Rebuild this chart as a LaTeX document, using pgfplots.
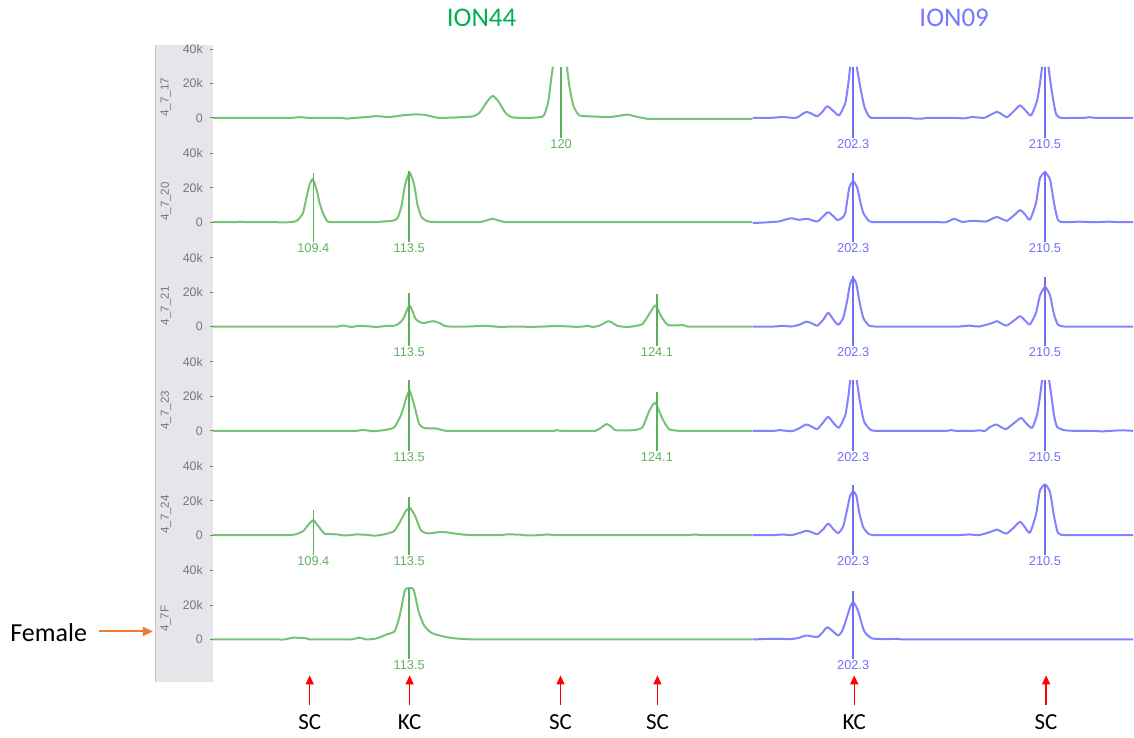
\documentclass[border=0pt]{standalone}
\usepackage{fontspec}
\setmainfont{Liberation Sans}
\newfontfamily\calib{Carlito}
\usepackage{pgfplots}
\pgfplotsset{compat=1.18}
\usetikzlibrary{arrows.meta}
\definecolor{gtrace}{RGB}{120,194,120}
\definecolor{gmark}{RGB}{92,176,92}
\definecolor{glab}{RGB}{95,178,95}
\definecolor{btrace}{RGB}{130,130,255}
\definecolor{bmark}{RGB}{112,112,245}
\definecolor{blab}{RGB}{112,112,240}
\definecolor{stripgray}{RGB}{229,229,234}
\definecolor{labgray}{RGB}{120,120,120}
\definecolor{titlegreen}{RGB}{0,176,80}
\definecolor{titleblue}{RGB}{120,120,255}
\definecolor{orangec}{RGB}{237,125,49}
\tikzset{
 gl/.style={font=\fontsize{6.4}{7}\selectfont, text=glab},
 bl/.style={font=\fontsize{6.4}{7}\selectfont, text=blab},
}
\pgfplotsset{
 rowaxis/.style={
  scale only axis, width=460.5pt, height=51.75pt,
  xmin=105.1, xmax=144.47, ymin=-18, ymax=42,
  anchor=south west, clip=false, unbounded coords=jump,
  axis line style={draw=none}, xtick=\empty,
  ytick={0,20,40}, yticklabels={0,20k,40k},
  ytick pos=left, tick align=outside, major tick length=1.5pt,
  tick style={draw=labgray, line width=0.4pt},
  yticklabel style={font=\fontsize{6.2}{7}\selectfont, text=labgray},
  ylabel style={at={(axis description cs:-0.051,0.5)}, anchor=center, font=\fontsize{5.8}{6}\selectfont, text=labgray},
 },
 gt/.style={gtrace, line width=1pt, smooth, tension=0.35, line join=round},
 bt/.style={btrace, line width=1pt, smooth, tension=0.35, line join=round, x filter/.expression={x-69.8}},
 gm/.style={gmark, line width=0.75pt},
 bm/.style={bmark, line width=0.75pt, x filter/.expression={x-69.8}},
}
\begin{document}
\begin{tikzpicture}
\begin{scope}[x=0.5pt,y=-0.5pt]
\path[use as bounding box] (0,0) rectangle (1134,738);
\fill[stripgray] (155,45) rectangle (213,683);
\draw[stripgray!85!black, line width=0.3pt] (155,45) -- (155,683);
\end{scope}

% Row 1
\begin{axis}[rowaxis, at={(106.5pt,-74.525pt)}, ylabel={4\_7\_17}]
\addplot[gt] coordinates {(105.10,0) (107.11,0) (108.39,0) (108.82,0.4) (109.25,0) (110.53,0) (110.83,-0.4) (111.17,0) (111.60,0.4) (112.11,1.0) (112.66,0.5) (113.22,1.5) (113.73,2.0) (114.16,1.8) (114.80,0) (116.17,0.8) (116.51,3) (116.81,9) (117.07,12.8) (117.32,9.5) (117.62,3) (117.92,0.3) (118.65,0) (119.20,0.7) (119.33,3.5) (119.46,10) (119.59,24) (119.65,29.7) (119.95,nan) (120.25,29.7) (120.36,18) (120.53,7) (120.78,1.5) (121.42,0.8) (122.07,0.5) (122.49,1.2) (122.84,1.9) (123.26,0.6) (123.69,-0.5) (124.2,-0.5) (126.2,-0.5) (128.18,-0.5)};
\addplot[bt] coordinates {(198.00,0) (198.71,0) (199.27,0.5) (199.56,0.2) (199.86,0) (200.08,1.8) (200.29,3.5) (200.51,2.5) (200.76,1) (200.98,3.5) (201.19,6.8) (201.45,4) (201.70,1.5) (201.96,8.7) (202.09,20) (202.17,29.7) (202.3,nan) (202.45,29.7) (202.60,18) (202.77,6.8) (202.94,1.5) (203.07,0) (203.5,0) (204.3,0) (204.69,0) (204.91,-0.4) (205.25,-0.4) (205.46,0) (206.0,0) (206.70,0) (207.04,-0.3) (207.39,0.5) (207.90,0) (208.20,2) (208.45,3.5) (208.67,2) (208.88,0.4) (209.18,4) (209.44,7.3) (209.69,4) (209.91,1.4) (210.16,9.7) (210.29,20) (210.38,29.7) (210.5,nan) (210.65,29.7) (210.80,15) (210.98,2) (211.19,0) (211.6,0) (212.17,0) (212.39,0.4) (212.68,0) (213.2,0) (214.27,0)};
\addplot[gm] coordinates {(120,-11.5) (120,29.7)};
\addplot[bm] coordinates {(202.3,-11.5) (202.3,29.7)};
\addplot[bm] coordinates {(210.5,-11.5) (210.5,29.7)};
\node[gl] at (axis cs:120,-15) {120};
\node[bl] at (axis cs:132.5,-15) {202.3};
\node[bl] at (axis cs:140.7,-15) {210.5};
\end{axis}

% Row 2
\begin{axis}[rowaxis, at={(106.5pt,-126.725pt)}, ylabel={4\_7\_20}]
\addplot[gt] coordinates {(105.10,0) (106.04,0) (106.25,0.3) (106.60,0) (107.5,0) (108.39,0) (108.69,0.8) (108.95,5) (109.07,12) (109.22,21) (109.37,25) (109.54,19) (109.67,11) (109.82,5) (110.01,0.5) (110.31,0) (110.6,0) (111.7,0) (112.02,0) (112.45,0.5) (112.79,0.8) (113.01,2.5) (113.18,10) (113.33,22) (113.52,28.8) (113.71,22) (113.86,10) (114.03,3) (114.29,0.5) (114.80,0) (115.1,0) (116.3,0) (116.60,0.2) (116.85,1.2) (117.07,2) (117.32,1) (117.62,0.1) (117.95,0) (118.4,0) (123,0) (128.18,0)};
\addplot[bt] coordinates {(198.00,-0.5) (198.71,0) (199.14,0.5) (199.39,1.5) (199.65,2.3) (199.99,1.4) (200.33,2) (200.76,0.4) (201.02,3.5) (201.23,5.8) (201.45,3.5) (201.62,1.2) (201.83,2.5) (201.96,5.4) (202.13,20) (202.30,23.8) (202.47,20) (202.60,12) (202.73,5.4) (202.98,0.6) (203.24,0) (203.6,0) (205.9,0) (206.27,0) (206.62,1.9) (206.96,0.2) (207.39,0.8) (207.98,0.4) (208.24,2) (208.45,3.1) (208.67,1.8) (208.88,0.8) (209.18,4) (209.44,7) (209.65,4.5) (209.86,1.5) (210.12,11.2) (210.29,25.6) (210.51,28.8) (210.72,24.7) (210.89,11.2) (211.06,1.2) (211.32,0) (211.96,0.3) (212.60,0) (213.24,0.3) (213.7,0) (214.27,0)};
\addplot[gm] coordinates {(109.4,-11.5) (109.4,28.8)};
\addplot[gm] coordinates {(113.5,-11.5) (113.5,29.7)};
\addplot[bm] coordinates {(202.3,-11.5) (202.3,28.8)};
\addplot[bm] coordinates {(210.5,-11.5) (210.5,29.7)};
\node[gl] at (axis cs:109.4,-15) {109.4};
\node[gl] at (axis cs:113.5,-15) {113.5};
\node[bl] at (axis cs:132.5,-15) {202.3};
\node[bl] at (axis cs:140.7,-15) {210.5};
\end{axis}

% Row 3
\begin{axis}[rowaxis, at={(106.5pt,-178.925pt)}, ylabel={4\_7\_21}]
\addplot[gt] coordinates {(105.10,0) (108,0) (110.1,0) (110.48,0) (110.66,0.6) (111.04,-0.3) (111.34,0.4) (111.85,0) (112.11,-0.3) (112.49,0.3) (112.88,0.5) (113.09,2) (113.26,4.7) (113.52,12.3) (113.78,4.3) (114.07,2) (114.29,2.5) (114.54,3.1) (114.80,2) (115.01,0.4) (115.23,0) (116.0,0) (116.77,0.4) (117.36,-0.2) (118.01,0) (118.73,-0.2) (119.29,0) (119.80,0.3) (120.36,0) (120.74,-0.2) (121.17,0.4) (121.34,-0.3) (121.64,0.5) (122.02,3.1) (122.24,1.8) (122.41,0.4) (122.79,-0.3) (123.13,0.2) (123.48,1.4) (123.73,6.3) (124.03,12.2) (124.31,5.3) (124.59,0.8) (125.23,0.8) (125.40,0) (125.8,0) (127,0) (128.18,0)};
\addplot[bt] coordinates {(198.00,0) (198.92,0) (199.27,0.4) (199.65,0) (199.99,1.0) (200.29,2.8) (200.51,2) (200.76,0.5) (201.02,4) (201.23,8) (201.45,4) (201.66,1) (201.87,5) (202.04,15) (202.17,25) (202.30,27.8) (202.43,25) (202.56,15) (202.73,5) (202.98,0.5) (203.24,0) (203.6,0) (206.4,0) (206.83,0) (207.26,0.5) (207.68,0) (208.20,1.8) (208.45,3.1) (208.71,1.2) (208.88,0.6) (209.18,3.5) (209.44,6) (209.65,3.5) (209.86,1.2) (210.12,8) (210.29,18) (210.51,23) (210.72,18) (210.89,7) (211.06,1) (211.32,0) (211.7,0) (213,0) (214.27,0)};
\addplot[gm] coordinates {(113.5,-11.5) (113.5,19.2)};
\addplot[gm] coordinates {(124.1,-11.5) (124.1,19)};
\addplot[bm] coordinates {(202.3,-11.5) (202.3,29.5)};
\addplot[bm] coordinates {(210.5,-11.5) (210.5,29)};
\node[gl] at (axis cs:113.5,-15) {113.5};
\node[gl] at (axis cs:124.1,-15) {124.1};
\node[bl] at (axis cs:132.5,-15) {202.3};
\node[bl] at (axis cs:140.7,-15) {210.5};
\end{axis}

% Row 4
\begin{axis}[rowaxis, at={(106.5pt,-231.125pt)}, ylabel={4\_7\_23}]
\addplot[gt] coordinates {(105.10,0) (108,0) (110.9,0) (111.25,0) (111.55,0.5) (111.94,-0.2) (112.41,0.4) (112.86,2) (113.17,9.8) (113.39,19.6) (113.52,23.3) (113.70,15.7) (113.93,3.9) (114.16,1.6) (114.63,1.4) (115.06,0) (115.4,0) (117.5,0) (119.4,0) (119.72,0) (119.80,0.4) (120.01,0) (120.3,0) (121.2,0) (121.47,0) (121.68,1.5) (121.94,3.9) (122.15,2.5) (122.32,0.4) (123.09,0.4) (123.48,2) (123.78,11.8) (124.03,16.3) (124.31,7.8) (124.61,1) (125.06,0) (125.4,0) (127,0) (128.18,0)};
\addplot[bt] coordinates {(198.00,0) (198.92,0) (199.14,0.4) (199.44,0) (199.69,-0.2) (199.99,1.5) (200.29,3.7) (200.51,2.5) (200.76,1) (201.02,5) (201.23,8.1) (201.49,4) (201.70,1.9) (201.96,9.1) (202.09,20) (202.17,29.5) (202.3,nan) (202.45,29.5) (202.60,16) (202.77,5.2) (203.06,0.4) (203.41,0) (203.8,0) (206.0,0) (206.32,0) (206.49,0.4) (206.70,0) (207.47,0) (207.68,0.3) (207.94,0) (208.15,2.2) (208.41,3.7) (208.62,2.2) (208.84,1) (209.18,4.5) (209.48,7.5) (209.69,4.5) (209.95,1.7) (210.16,9.1) (210.29,20) (210.38,29.5) (210.5,nan) (210.68,29.5) (210.78,20) (210.89,9.1) (211.02,2.3) (211.32,0.4) (211.74,0) (212.4,0) (212.94,-0.3) (213.33,0) (213.80,0.3) (214.27,0)};
\addplot[gm] coordinates {(113.5,-11.5) (113.5,29.7)};
\addplot[gm] coordinates {(124.1,-11.5) (124.1,22.5)};
\addplot[bm] coordinates {(202.3,-11.5) (202.3,29.7)};
\addplot[bm] coordinates {(210.5,-11.5) (210.5,29.7)};
\node[gl] at (axis cs:113.5,-15) {113.5};
\node[gl] at (axis cs:124.1,-15) {124.1};
\node[bl] at (axis cs:132.5,-15) {202.3};
\node[bl] at (axis cs:140.7,-15) {210.5};
\end{axis}

% Row 5
\begin{axis}[rowaxis, at={(106.5pt,-283.325pt)}, ylabel={4\_7\_24}]
\addplot[gt] coordinates {(105.10,0) (107,0) (108.0,0) (108.35,0) (108.65,0.5) (108.97,2.4) (109.20,6.3) (109.40,8.6) (109.61,5.3) (109.89,0.8) (110.36,0.5) (110.78,-0.2) (111.25,0.4) (111.64,0.2) (112.02,-0.3) (112.41,0.4) (112.86,2.4) (113.17,9.2) (113.36,14.1) (113.54,15.7) (113.75,11.2) (114.01,2.7) (114.31,1) (114.63,1.5) (115.00,1.8) (115.53,0.8) (116.13,0) (117.36,0) (117.66,0.4) (118.22,0.3) (118.52,-0.2) (119.07,0) (119.42,0.4) (119.72,0) (120.1,0) (122.5,0) (125.1,0) (125.48,0) (125.74,0.4) (126.00,0) (126.3,0) (127.3,0) (128.18,0)};
\addplot[bt] coordinates {(198.00,0) (198.92,0) (199.27,0.4) (199.65,0) (199.99,1.2) (200.29,2.5) (200.51,1.8) (200.76,0.5) (201.02,3.5) (201.23,6.7) (201.45,3.5) (201.66,1.2) (201.87,5) (202.04,15) (202.17,23) (202.30,25.2) (202.43,23) (202.56,13) (202.73,4.5) (202.98,0.5) (203.24,0) (203.6,0) (206.4,0) (206.83,0) (207.26,0.4) (207.68,0) (208.20,2) (208.45,3.2) (208.71,1.5) (208.88,1) (209.18,4.5) (209.44,7.8) (209.65,4.5) (209.86,1.4) (210.12,12) (210.29,26) (210.51,29.3) (210.72,25) (210.89,11) (211.06,1.2) (211.32,0) (211.7,0) (213,0) (214.27,0)};
\addplot[gm] coordinates {(109.4,-11.5) (109.4,14.7)};
\addplot[gm] coordinates {(113.5,-11.5) (113.5,22)};
\addplot[bm] coordinates {(202.3,-11.5) (202.3,29)};
\addplot[bm] coordinates {(210.5,-11.5) (210.5,29.7)};
\node[gl] at (axis cs:109.4,-15) {109.4};
\node[gl] at (axis cs:113.5,-15) {113.5};
\node[bl] at (axis cs:132.5,-15) {202.3};
\node[bl] at (axis cs:140.7,-15) {210.5};
\end{axis}

% Row 6
\begin{axis}[rowaxis, at={(106.5pt,-335.525pt)}, ylabel={4\_7F}]
\addplot[gt] coordinates {(105.10,0) (107,0) (107.8,0) (108.18,0) (108.52,1) (109.03,0.8) (109.25,0) (109.6,0) (110.7,0) (111.04,0) (111.38,1) (111.68,0) (112.11,0.6) (112.54,2.9) (112.88,4.8) (113.09,13.5) (113.31,28) (113.41,29.6) (113.65,29.6) (113.73,27) (113.92,15.5) (114.16,7.7) (114.50,3.5) (115.23,1) (115.87,0.2) (116.51,0) (116.9,0) (119,0) (123.5,0) (128.18,0)};
\addplot[bt] coordinates {(198.00,0) (198.84,0.4) (199.65,0.2) (199.99,1) (200.29,2.3) (200.76,1.4) (200.98,4) (201.19,7.1) (201.45,4.5) (201.66,2.3) (201.83,5) (202.00,11.6) (202.17,19) (202.30,21.6) (202.43,19) (202.53,15.5) (202.77,4.8) (203.11,0.6) (203.84,0.2) (204.14,0.4) (204.39,0) (204.8,0) (207,0) (211,0) (214.27,0)};
\addplot[gm] coordinates {(113.5,-11.5) (113.5,29.7)};
\addplot[bm] coordinates {(202.3,-11.5) (202.3,28)};
\node[gl] at (axis cs:113.5,-15) {113.5};
\node[bl] at (axis cs:132.5,-15) {202.3};
\end{axis}

\begin{scope}[x=0.5pt,y=-0.5pt]
\node[font=\calib\fontsize{13.5}{16}\selectfont, text=titlegreen] at (482,18) {ION44};
\node[font=\calib\fontsize{13.5}{16}\selectfont, text=titleblue] at (955,18) {ION09};
\node[font=\calib\fontsize{13}{15}\selectfont, anchor=west, inner sep=0pt] at (10,633) {Female};
\draw[orangec, line width=1pt, -{Triangle[length=5pt,width=4.5pt]}] (99,632) -- (153,632);
\foreach \xx/\lab in {310/SC, 410/KC, 561/SC, 658/SC, 855/KC, 1047/SC} {
  \draw[red, line width=0.7pt, -{Triangle[length=4.5pt,width=4pt]}] (\xx,706) -- (\xx,676);
  \node[font=\calib\fontsize{11.5}{13}\selectfont] at (\xx,723) {\lab};
}
\end{scope}
\end{tikzpicture}
\end{document}
